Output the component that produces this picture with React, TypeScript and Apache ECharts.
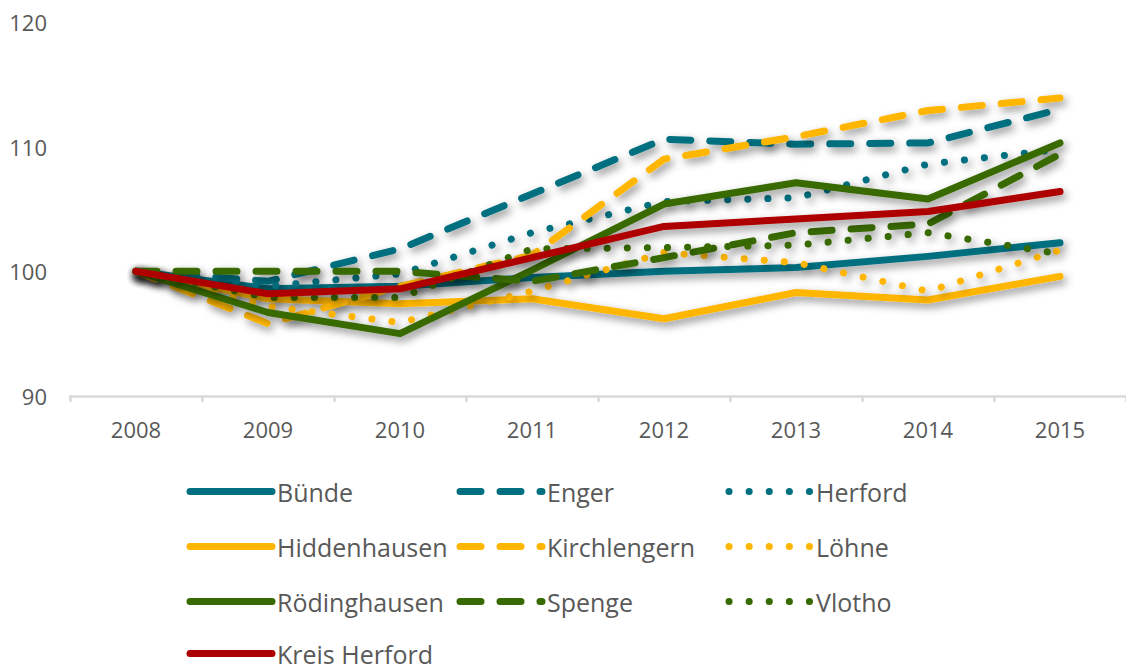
import React, { useEffect, useRef } from "react";
import * as echarts from "echarts";

const years = ["2008", "2009", "2010", "2011", "2012", "2013", "2014", "2015"];

const buende = [100, 98.6, 98.8, 99.5, 100.0, 100.3, 101.2, 102.3];
const enger = [100, 99.2, 101.8, 106.2, 110.6, 110.2, 110.3, 113.0];
const herford = [100, 98.8, 99.8, 103.1, 105.6, 105.9, 108.6, 109.8];
const hiddenhausen = [100, 97.8, 97.4, 97.8, 96.2, 98.3, 97.7, 99.6];
const kirchlengern = [100, 95.8, 98.8, 101.3, 109.0, 110.8, 112.9, 113.9];
const loehne = [100, 97.2, 95.9, 98.4, 101.5, 100.7, 98.4, 101.7];
const roedinghausen = [100, 96.7, 95.0, 100.1, 105.4, 107.1, 105.8, 110.3];
const spenge = [100, 100, 100.0, 99.2, 101.1, 103.1, 103.8, 109.4];
const vlotho = [100, 97.9, 97.9, 101.8, 101.9, 102.1, 103.1, 101.4];
const kreisHerford = [100, 98.2, 98.6, 101.1, 103.6, 104.2, 104.8, 106.4];

const yTicks = [90, 100, 110, 120];

const TEAL = "#006F80";
const YELLOW = "#FFB600";
const GREEN = "#376A00";
const RED = "#AE0000";

const DASH = [21, 19];
const DOT = [0.1, 20];

const seriesDefs = [
  { name: "Bünde", data: buende, color: TEAL, type: "solid" as any },
  { name: "Enger", data: enger, color: TEAL, type: DASH as any },
  { name: "Herford", data: herford, color: TEAL, type: DOT as any },
  { name: "Hiddenhausen", data: hiddenhausen, color: YELLOW, type: "solid" as any },
  { name: "Kirchlengern", data: kirchlengern, color: YELLOW, type: DASH as any },
  { name: "Löhne", data: loehne, color: YELLOW, type: DOT as any },
  { name: "Rödinghausen", data: roedinghausen, color: GREEN, type: "solid" as any },
  { name: "Spenge", data: spenge, color: GREEN, type: DASH as any },
  { name: "Vlotho", data: vlotho, color: GREEN, type: DOT as any },
  { name: "Kreis Herford", data: kreisHerford, color: RED, type: "solid" as any },
];

const legendPos = [
  [186.5, 490], [456.5, 490], [725.5, 490],
  [186.5, 545], [456.5, 545], [725.5, 545],
  [186.5, 600], [456.5, 600], [725.5, 600],
  [186.5, 652],
];

const FONT = "'Open Sans', 'Noto Sans', sans-serif";

export default function App() {
  const ref = useRef<HTMLDivElement>(null);
  useEffect(() => {
    if (!ref.current) return;
    const chart = echarts.init(ref.current, undefined, { renderer: "svg" });
    const legends = seriesDefs.map((s, i) => ({
      data: [s.name],
      left: legendPos[i][0],
      top: legendPos[i][1] - 11,
      padding: 0,
      itemWidth: 82,
      itemHeight: 22,
      selectedMode: false,
      itemStyle: { opacity: 0 },
      lineStyle: {
        width: 7,
        cap: "round",
        shadowBlur: 0,
        shadowOffsetX: 0,
        shadowOffsetY: 0,
        shadowColor: "rgba(0,0,0,0)",
      },
      textStyle: {
        fontSize: 25,
        color: "#595959",
        fontFamily: FONT,
        lineHeight: 22,
      },
    }));
    chart.setOption({
      animation: false,
      backgroundColor: "#ffffff",
      legend: legends,
      grid: { left: 70, top: 22, width: 1063, height: 374, containLabel: false },
      xAxis: {
        type: "category",
        data: years,
        boundaryGap: true,
        axisLine: { lineStyle: { color: "#D9D9D9", width: 2.5 } },
        axisTick: { show: true, length: 6, lineStyle: { color: "#D9D9D9", width: 2.5 } },
        axisLabel: { fontSize: 22, color: "#595959", fontFamily: FONT, margin: 22 },
        splitLine: { show: false },
      },
      yAxis: {
        type: "value",
        min: yTicks[0],
        max: yTicks[yTicks.length - 1],
        interval: 10,
        axisLine: { show: false },
        axisTick: { show: false },
        splitLine: { show: false },
        axisLabel: { fontSize: 22, color: "#595959", fontFamily: FONT, margin: 23 },
      },
      series: seriesDefs.map((s) => ({
        name: s.name,
        type: "line",
        data: s.data,
        symbol: "none",
        showSymbol: false,
        color: s.color,
        lineStyle: {
          color: s.color,
          width: 7,
          type: s.type,
          cap: "round",
          join: "round",
          shadowColor: "rgba(0,0,0,0.45)",
          shadowBlur: 8,
          shadowOffsetX: 3,
          shadowOffsetY: 4,
        },
      })),
    });
    return () => chart.dispose();
  }, []);
  return (
    <div
      ref={ref}
      style={{ position: "absolute", left: 0, top: 0, width: 1126, height: 666 }}
    />
  );
}
